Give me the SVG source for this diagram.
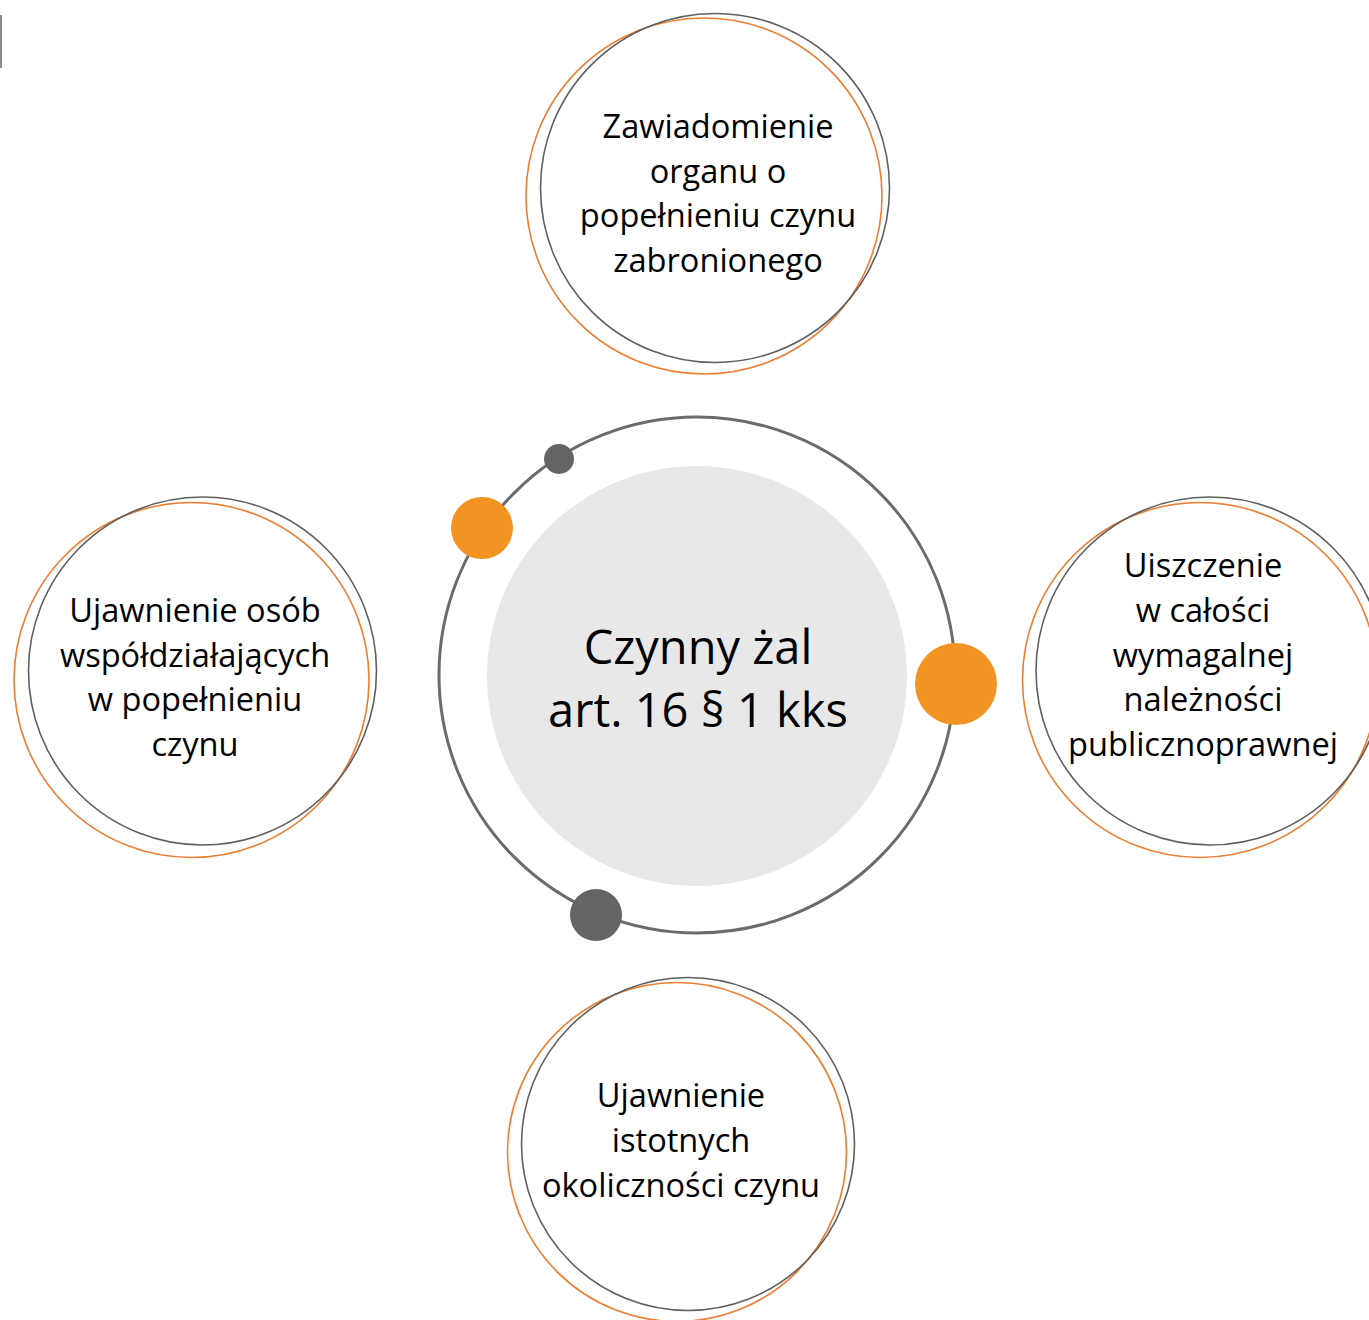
<svg xmlns="http://www.w3.org/2000/svg" width="1369" height="1320" viewBox="0 0 1369 1320">
<style>
.ring-g{fill:none;stroke:#5f5f5f;stroke-width:1.6}
.ring-o{fill:none;stroke:#ED7D31;stroke-width:1.6}
.t{font-family:"Open Sans","Noto Sans","Liberation Sans",sans-serif;font-size:32.6px;fill:#000;text-anchor:middle}
.tc{font-family:"Open Sans","Noto Sans","Liberation Sans",sans-serif;font-size:47px;fill:#000;text-anchor:middle}
.dot-o{fill:#F29324}
.dot-g{fill:#636466}
</style>
<rect x="0" y="0" width="1369" height="1320" fill="#ffffff"/>
<rect x="0" y="15" width="2" height="53" fill="#8c8c8c"/>

<g id="connectors"></g>

<g id="center">
  <circle cx="697" cy="675" r="258" fill="none" stroke="#6b6b6b" stroke-width="3"/>
  <circle cx="697" cy="676" r="210" fill="#E8E8E8"/>
  <circle cx="559" cy="459" r="15" class="dot-g"/>
  <circle cx="482" cy="528" r="31" class="dot-o"/>
  <circle cx="956" cy="684" r="41" class="dot-o"/>
  <circle cx="596" cy="915" r="26" class="dot-g"/>
  <text class="tc" x="698" y="664">Czynny żal</text>
  <text class="tc" x="698" y="727">art. 16 § 1 kks</text>
</g>

<g id="node-top">
  <circle cx="704" cy="196" r="178" class="ring-o"/>
  <circle cx="715" cy="188" r="174.5" class="ring-g"/>
  <text class="t" x="718" y="138">Zawiadomienie</text>
  <text class="t" x="718" y="182.5">organu o</text>
  <text class="t" x="718" y="227">popełnieniu czynu</text>
  <text class="t" x="718" y="271.5">zabronionego</text>
</g>

<g id="node-left">
  <circle cx="191.5" cy="680" r="177.5" class="ring-o"/>
  <circle cx="202.5" cy="671" r="174" class="ring-g"/>
  <text class="t" x="195" y="622">Ujawnienie osób</text>
  <text class="t" x="195" y="667">współdziałających</text>
  <text class="t" x="195" y="711">w popełnieniu</text>
  <text class="t" x="195" y="756">czynu</text>
</g>

<g id="node-right">
  <circle cx="1200" cy="680" r="177.5" class="ring-o"/>
  <circle cx="1210" cy="671" r="174" class="ring-g"/>
  <text class="t" x="1203" y="577">Uiszczenie</text>
  <text class="t" x="1203" y="622">w całości</text>
  <text class="t" x="1203" y="667">wymagalnej</text>
  <text class="t" x="1203" y="711">należności</text>
  <text class="t" x="1203" y="756">publicznoprawnej</text>
</g>

<g id="node-bottom">
  <circle cx="677" cy="1152" r="169.5" class="ring-o"/>
  <circle cx="688" cy="1144" r="166.5" class="ring-g"/>
  <text class="t" x="681" y="1107">Ujawnienie</text>
  <text class="t" x="681" y="1152">istotnych</text>
  <text class="t" x="681" y="1197">okoliczności czynu</text>
</g>
</svg>
